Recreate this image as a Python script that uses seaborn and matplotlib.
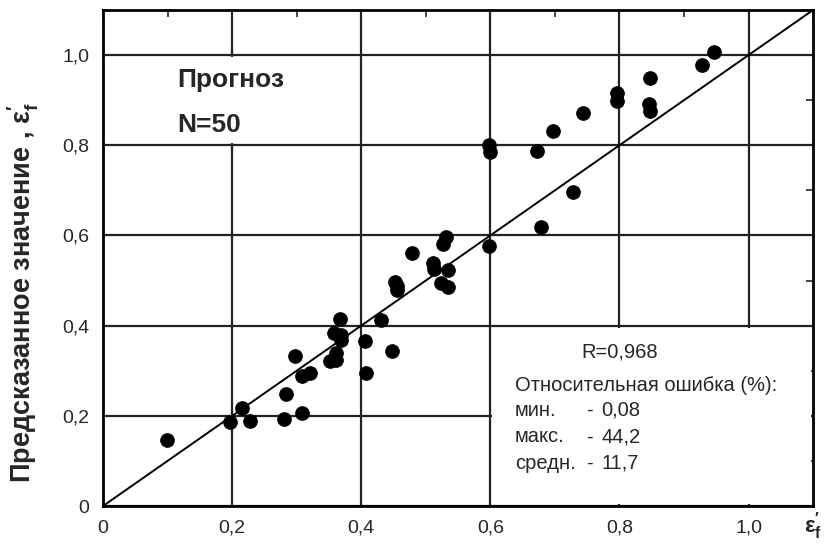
import numpy as np
import pandas as pd
import seaborn as sns
import matplotlib.pyplot as plt
from matplotlib.patches import Rectangle
from matplotlib.ticker import MultipleLocator, FixedLocator

actual = [0.099, 0.196, 0.215, 0.228, 0.280, 0.284, 0.309, 0.298, 0.309, 0.320,
          0.351, 0.361, 0.361, 0.358, 0.369, 0.368, 0.367, 0.406, 0.408, 0.448,
          0.430, 0.452, 0.455, 0.455, 0.478, 0.511, 0.513, 0.534, 0.524, 0.535,
          0.526, 0.532, 0.598, 0.678, 0.728, 0.598, 0.599, 0.672, 0.697, 0.744,
          0.796, 0.796, 0.847, 0.846, 0.848, 0.928, 0.947]
predicted = [0.146, 0.187, 0.217, 0.189, 0.194, 0.248, 0.206, 0.333, 0.288, 0.296,
             0.322, 0.324, 0.339, 0.383, 0.379, 0.368, 0.414, 0.367, 0.296, 0.344,
             0.412, 0.497, 0.487, 0.478, 0.562, 0.539, 0.525, 0.523, 0.495, 0.486,
             0.582, 0.597, 0.577, 0.619, 0.697, 0.800, 0.784, 0.788, 0.832, 0.871,
             0.916, 0.899, 0.950, 0.891, 0.877, 0.978, 1.007]

tick_values = [0, 0.2, 0.4, 0.6, 0.8, 1.0]
tick_labels = ["0", "0,2", "0,4", "0,6", "0,8", "1,0"]

stat_names = ["мин.", "макс.", "средн."]
stat_values = ["0,08", "44,2", "11,7"]

df = pd.DataFrame({"actual": actual, "predicted": predicted})

sns.set_style("white")
plt.rcParams['font.family'] = ['Liberation Sans', 'DejaVu Sans']
plt.rcParams['mathtext.fontset'] = 'custom'
plt.rcParams['mathtext.rm'] = 'Liberation Sans'
plt.rcParams['mathtext.bf'] = 'Liberation Sans:bold'
plt.rcParams['mathtext.it'] = 'Liberation Sans:italic'

fig = plt.figure(figsize=(8.28, 5.49), dpi=100)
ax = fig.add_axes([0.1244, 0.0783, 0.8576, 0.9035])

ax.set_xlim(0, 1.1)
ax.set_ylim(0, 1.1)
ax.set_axisbelow(True)
ax.grid(True, color="#222222", linewidth=1.6)
ax.xaxis.set_major_locator(FixedLocator(tick_values))
ax.yaxis.set_major_locator(FixedLocator(tick_values))
ax.xaxis.set_minor_locator(MultipleLocator(0.1))
ax.yaxis.set_minor_locator(MultipleLocator(0.1))
ax.set_xticklabels(tick_labels, fontsize=14)
ax.set_yticklabels(tick_labels, fontsize=14)
ax.tick_params(which="major", direction="out", length=6, width=1.5, color="black", pad=4)
ax.tick_params(which="minor", direction="out", length=4, width=1.2, color="black")

for s in ax.spines.values():
    s.set_color("black")
    s.set_linewidth(2)

# inward ticks on top and right
top = ax.secondary_xaxis('top')
top.xaxis.set_major_locator(FixedLocator(tick_values))
top.xaxis.set_minor_locator(MultipleLocator(0.1))
top.tick_params(which="both", direction="in", labeltop=False, length=5, width=1.2)
right = ax.secondary_yaxis('right')
right.yaxis.set_major_locator(FixedLocator(tick_values))
right.yaxis.set_minor_locator(MultipleLocator(0.1))
right.tick_params(which="both", direction="in", labelright=False, length=5, width=1.2)
for sec in (top, right):
    for s in sec.spines.values():
        s.set_visible(False)

# white boxes behind the text blocks (they hide the grid there)
ax.add_patch(Rectangle((0.05, 0.805), 0.3, 0.19, facecolor="white", edgecolor="none", zorder=0.8))
ax.add_patch(Rectangle((0.603, 0.004), 0.493, 0.39, facecolor="white", edgecolor="none", zorder=0.8))

ax.plot([0, 1.1], [0, 1.1], color="black", linewidth=1.4, zorder=2)
sns.scatterplot(data=df, x="actual", y="predicted", ax=ax, color="black",
                edgecolor="black", s=95, zorder=3, legend=False)

ax.set_xlabel("")
ax.set_ylabel(r"Предсказанное значение , $\mathbf{ε^{\prime}_{f}}$", fontsize=19.5,
              fontweight="bold")
ax.yaxis.set_label_coords(-0.088, 0.43)
ax.text(1.1, -0.045, r"$\mathbf{ε^{\prime}_{f}}$", fontsize=16, ha="center", va="center",
        clip_on=False)

ax.text(0.115, 0.945, "Прогноз", fontsize=19, fontweight="bold", ha="left", va="center")
ax.text(0.115, 0.845, "N=50", fontsize=19, fontweight="bold", ha="left", va="center")

ax.text(0.80, 0.342, "R=0,968", fontsize=14.5, ha="center", va="center")
ax.text(0.638, 0.268, "Относительная ошибка (%):", fontsize=14.5, ha="left", va="center")
for i, (name, val) in enumerate(zip(stat_names, stat_values)):
    y = 0.212 - i * 0.0585
    ax.text(0.638, y, name, fontsize=14.5, ha="left", va="center")
    ax.text(0.754, y, "-", fontsize=14.5, ha="center", va="center")
    ax.text(0.772, y, val, fontsize=14.5, ha="left", va="center")

fig.savefig("out.png", dpi=100)
